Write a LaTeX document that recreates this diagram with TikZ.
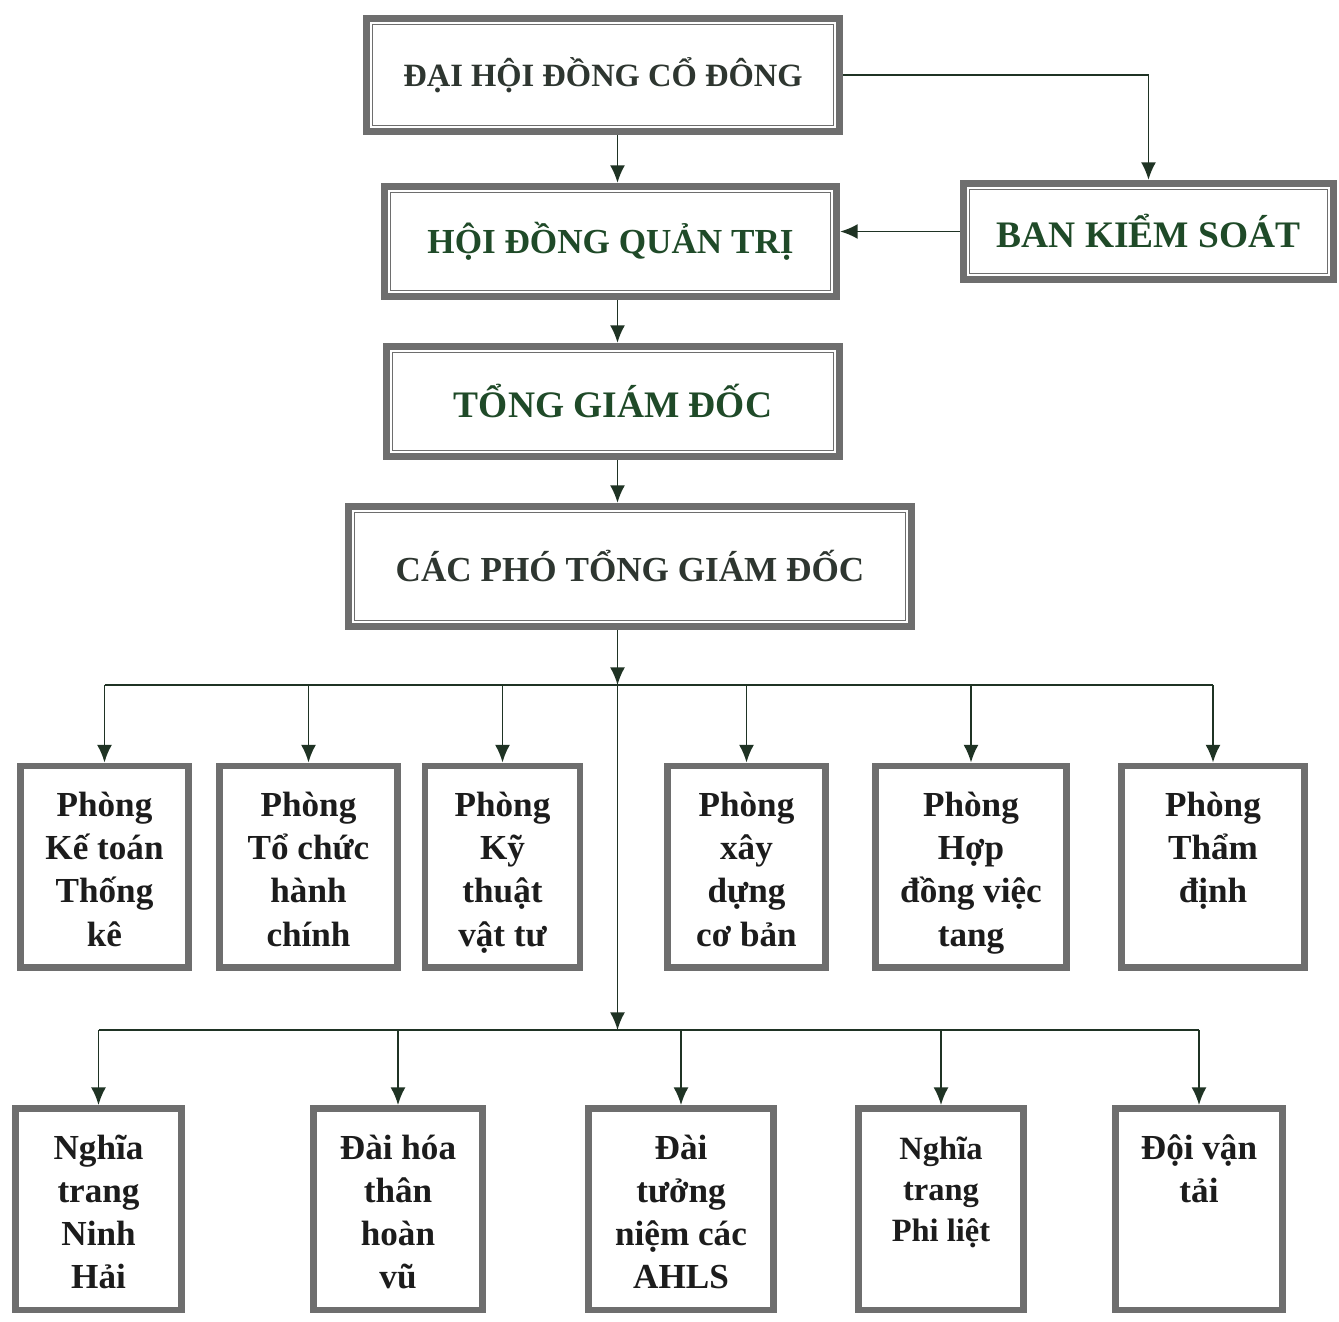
\documentclass[tikz,border=0pt]{standalone}
\usepackage{fontspec}
\setmainfont{Liberation Serif}
\usepackage{tikz}
\usepackage{xcolor}
\usetikzlibrary{arrows.meta,calc}

\definecolor{boxgray}{HTML}{6E6E6E}
\definecolor{linegreen}{HTML}{1F3324}
\definecolor{titlegreen}{HTML}{1F4A28}
\definecolor{titledark}{HTML}{2E3630}
\definecolor{unittext}{HTML}{1C1C1C}

\newcommand{\unitlines}[1]{\parbox[t][3.43cm][t]{2.9cm}{\centering\rule{0pt}{0.72cm}#1}}

\begin{document}
\begin{tikzpicture}[
  topbox/.style={draw=boxgray, line width=3.8pt, fill=white, align=center, inner sep=0pt, text=titlegreen, font=\bfseries\fontsize{20}{24}\selectfont},
  innerframe/.style={draw=boxgray, line width=0.9pt},
  unitbox/.style={draw=boxgray, line width=3.8pt, fill=white, anchor=north, inner xsep=0.1cm, inner ysep=0.3cm, text=unittext, font=\bfseries\fontsize{20}{24.5}\selectfont},
  link/.style={draw=linegreen, line width=1.1pt},
  arr/.style={link, -{Latex[length=10pt,width=8.5pt]}}
]
\path [use as bounding box, fill=white] (0cm,0cm) rectangle (26.78cm,-26.44cm);

\node [topbox, minimum width=9.47cm, minimum height=2.27cm, text=titledark, font=\bfseries\fontsize{18.5}{22}\selectfont] (dhdcd) at (12.06cm,-1.5cm) {ĐẠI HỘI ĐỒNG CỔ ĐÔNG};
\node [topbox, minimum width=9.05cm, minimum height=2.21cm] (hdqt) at (12.21cm,-4.83cm) {HỘI ĐỒNG QUẢN TRỊ};
\node [topbox, minimum width=7.41cm, minimum height=1.93cm, font=\bfseries\fontsize{21.3}{25}\selectfont] (bks) at (22.97cm,-4.63cm) {BAN KIỂM SOÁT};
\node [topbox, minimum width=9.07cm, minimum height=2.21cm, font=\bfseries\fontsize{21.3}{25}\selectfont] (tgd) at (12.26cm,-8.03cm) {TỔNG GIÁM ĐỐC};
\node [topbox, minimum width=11.27cm, minimum height=2.41cm, text=titledark] (cptgd) at (12.6cm,-11.33cm) {CÁC PHÓ TỔNG GIÁM ĐỐC};

\draw [innerframe] ([xshift=5.5pt,yshift=-5.5pt]dhdcd.north west) rectangle ([xshift=-5.5pt,yshift=5.5pt]dhdcd.south east);
\draw [innerframe] ([xshift=5.5pt,yshift=-5.5pt]hdqt.north west) rectangle ([xshift=-5.5pt,yshift=5.5pt]hdqt.south east);
\draw [innerframe] ([xshift=5.5pt,yshift=-5.5pt]bks.north west) rectangle ([xshift=-5.5pt,yshift=5.5pt]bks.south east);
\draw [innerframe] ([xshift=5.5pt,yshift=-5.5pt]tgd.north west) rectangle ([xshift=-5.5pt,yshift=5.5pt]tgd.south east);
\draw [innerframe] ([xshift=5.5pt,yshift=-5.5pt]cptgd.north west) rectangle ([xshift=-5.5pt,yshift=5.5pt]cptgd.south east);

\node [unitbox, minimum width=3.37cm] (pkt) at (2.09cm,-15.25cm) {\unitlines{Phòng\\ Kế toán\\ Thống\\ kê}};
\node [unitbox, minimum width=3.57cm] (ptc) at (6.17cm,-15.25cm) {\unitlines{Phòng\\ Tổ chức\\ hành\\ chính}};
\node [unitbox, minimum width=3.09cm] (pkyt) at (10.05cm,-15.25cm) {\unitlines{Phòng\\ Kỹ\\ thuật\\ vật tư}};
\node [unitbox, minimum width=3.17cm] (pxd) at (14.93cm,-15.25cm) {\unitlines{Phòng\\ xây\\ dựng\\ cơ bản}};
\node [unitbox, minimum width=3.83cm] (phd) at (19.42cm,-15.25cm) {\unitlines{Phòng\\ Hợp\\ đồng việc\\ tang}};
\node [unitbox, minimum width=3.67cm] (ptdi) at (24.26cm,-15.25cm) {\unitlines{Phòng\\ Thẩm\\ định}};

\node [unitbox, minimum width=3.33cm] (ntnh) at (1.97cm,-22.1cm) {\unitlines{Nghĩa\\ trang\\ Ninh\\ Hải}};
\node [unitbox, minimum width=3.39cm] (dhtv) at (7.96cm,-22.1cm) {\unitlines{Đài hóa\\ thân\\ hoàn\\ vũ}};
\node [unitbox, minimum width=3.71cm] (dtn) at (13.62cm,-22.1cm) {\unitlines{Đài\\ tưởng\\ niệm các\\ AHLS}};
\node [unitbox, minimum width=3.31cm, font=\bfseries\fontsize{18.5}{23.5}\selectfont] (ntpl) at (18.82cm,-22.1cm) {\unitlines{Nghĩa\\ trang\\ Phi liệt}};
\node [unitbox, minimum width=3.35cm] (dvt) at (23.98cm,-22.1cm) {\unitlines{Đội vận\\ tải}};

\coordinate (spine) at (12.35cm,0cm);
\coordinate (bus1) at (12.35cm,-13.7cm);
\coordinate (bus2) at (12.35cm,-20.6cm);

\draw [arr] (dhdcd.south -| spine) -- (hdqt.north -| spine);
\draw [arr] (dhdcd.east) -| (bks.north);
\draw [arr] (bks.west) -- (bks.west -| hdqt.east);
\draw [arr] (hdqt.south -| spine) -- (tgd.north -| spine);
\draw [arr] (tgd.south -| spine) -- (cptgd.north -| spine);
\draw [arr] (cptgd.south -| bus1) -- (bus1);
\draw [arr] (bus1) -- (bus2);

\draw [link] (pkt.north |- bus1) -- (ptdi.north |- bus1);
\draw [arr] (pkt.north |- bus1) -- (pkt.north);
\draw [arr] (ptc.north |- bus1) -- (ptc.north);
\draw [arr] (pkyt.north |- bus1) -- (pkyt.north);
\draw [arr] (pxd.north |- bus1) -- (pxd.north);
\draw [arr] (phd.north |- bus1) -- (phd.north);
\draw [arr] (ptdi.north |- bus1) -- (ptdi.north);

\draw [link] (ntnh.north |- bus2) -- (dvt.north |- bus2);
\draw [arr] (ntnh.north |- bus2) -- (ntnh.north);
\draw [arr] (dhtv.north |- bus2) -- (dhtv.north);
\draw [arr] (dtn.north |- bus2) -- (dtn.north);
\draw [arr] (ntpl.north |- bus2) -- (ntpl.north);
\draw [arr] (dvt.north |- bus2) -- (dvt.north);

\end{tikzpicture}
\end{document}
